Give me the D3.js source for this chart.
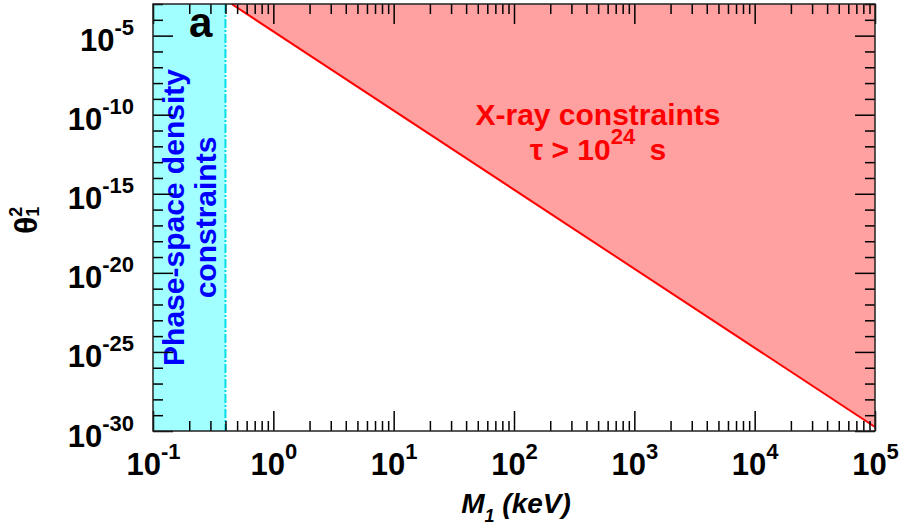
<!DOCTYPE html>
<html><head><meta charset="utf-8">
<script src="https://cdn.jsdelivr.net/npm/d3@7"></script>
<style>
body{margin:0;background:#fff}
svg{display:block}
text{font-family:"Liberation Sans",Arial,Helvetica,sans-serif;font-weight:bold}
</style>
</head><body>
<svg id="chart" width="900" height="526"></svg>
<script>
// ---- data ----
const xMajorTicks = [0.1, 1, 10, 100, 1000, 10000, 100000];
const xTickExponents = ["-1", "0", "1", "2", "3", "4", "5"];
const yMajorTicks = [1e-30, 1e-25, 1e-20, 1e-15, 1e-10, 1e-5];
const yTickExponents = ["-30", "-25", "-20", "-15", "-10", "-5"];
const xDomain = [0.1, 1e5];
const yDomain = [1e-30, 1e-3];
const phaseSpaceMassLimit = 0.4;          // keV
const xrayMass = [0.45, 1e5];             // keV
const xrayTheta2 = [1e-3, 1.8e-30];

// ---- layout ----
const svg = d3.select("#chart");
const L = 153, R = 875, T = 4, B = 431;
const x = d3.scaleLog().domain(xDomain).range([L, R]);
const y = d3.scaleLog().domain(yDomain).range([B, T]);

// minor tick positions
const xMinor = [];
for (let e = -1; e < 5; e++) for (let k = 2; k <= 9; k++) xMinor.push(k * Math.pow(10, e));
const yMinor = [];
for (let e = -29; e <= -3; e++) if (e % 5 !== 0) yMinor.push(Math.pow(10, e));

// ---- regions ----
svg.append("rect")
  .attr("x", x(xDomain[0])).attr("y", T)
  .attr("width", x(phaseSpaceMassLimit) - x(xDomain[0]))
  .attr("height", B - T)
  .attr("fill", "#a1ffff");

const xrayPts = xrayMass.map((m, i) => [x(m), y(xrayTheta2[i])]);
const poly = [...xrayPts, [x(xDomain[1]), y(yDomain[1])]];
svg.append("path")
  .attr("d", d3.line()(poly) + "Z")
  .attr("fill", "#ffa1a1");

svg.append("path")
  .attr("d", d3.line()(xrayPts))
  .attr("fill", "none").attr("stroke", "#ff0000").attr("stroke-width", 2);

svg.append("line")
  .attr("x1", x(phaseSpaceMassLimit)).attr("x2", x(phaseSpaceMassLimit))
  .attr("y1", T).attr("y2", B)
  .attr("stroke", "#00dde8").attr("stroke-width", 2)
  .attr("stroke-dasharray", "9,2,2,2");

// ---- texts ----
svg.append("text").attr("x", 189).attr("y", 37)
  .attr("font-size", 42).attr("fill", "#000").text("a");

const ps = svg.append("g").attr("transform", `translate(184,${(T + B) / 2}) rotate(-90)`);
ps.append("text").attr("text-anchor", "middle").attr("font-size", 30)
  .attr("fill", "#0000ff").text("Phase-space density");
ps.append("text").attr("text-anchor", "middle").attr("font-size", 30).attr("y", 32)
  .attr("fill", "#0000ff").text("constraints");

svg.append("text").attr("x", 598).attr("y", 125).attr("text-anchor", "middle")
  .attr("font-size", 30).attr("fill", "#ff0000").text("X-ray constraints");
const t2 = svg.append("text").attr("x", 598).attr("y", 160).attr("text-anchor", "middle")
  .attr("font-size", 30).attr("fill", "#ff0000");
t2.append("tspan").text("\u03C4 > 10");
t2.append("tspan").attr("dy", -16).attr("font-size", 22).text("24");
t2.append("tspan").attr("dy", 16).text("\u2009 s");

// ---- axes ----
function styleAxis(g) {
  g.select(".domain").remove();
  g.attr("font-family", null).attr("font-size", 31).attr("color", "#000");
  g.selectAll(".tick line").attr("stroke-width", 1.5);
}
function expLabels(g, exps, opts) {
  g.selectAll(".tick text").each(function (d, i) {
    const t = d3.select(this);
    t.text(null).attr("dy", null);
    if (opts.x !== undefined) t.attr("x", opts.x);
    if (opts.y !== undefined) t.attr("y", opts.y);
    t.append("tspan").text("10");
    t.append("tspan").attr("dy", -16).attr("font-size", 22).text(exps[i]);
  });
}

// bottom
const gb = svg.append("g").attr("transform", `translate(0,${B})`)
  .call(d3.axisBottom(x).tickValues(xMajorTicks).tickSize(-20).tickSizeOuter(0));
styleAxis(gb);
expLabels(gb, xTickExponents, { y: 44 });
const gbm = svg.append("g").attr("transform", `translate(0,${B})`)
  .call(d3.axisBottom(x).tickValues(xMinor).tickSize(-10).tickFormat(() => ""));
styleAxis(gbm);
// top
const gt = svg.append("g").attr("transform", `translate(0,${T})`)
  .call(d3.axisTop(x).tickValues(xMajorTicks).tickSize(-20).tickFormat(() => ""));
styleAxis(gt);
const gtm = svg.append("g").attr("transform", `translate(0,${T})`)
  .call(d3.axisTop(x).tickValues(xMinor).tickSize(-10).tickFormat(() => ""));
styleAxis(gtm);
// left
const gl = svg.append("g").attr("transform", `translate(${L},0)`)
  .call(d3.axisLeft(y).tickValues(yMajorTicks).tickSize(-20).tickSizeOuter(0));
styleAxis(gl);
expLabels(gl, yTickExponents, { x: -19, y: 15 });
const glm = svg.append("g").attr("transform", `translate(${L},0)`)
  .call(d3.axisLeft(y).tickValues(yMinor).tickSize(-10).tickFormat(() => ""));
styleAxis(glm);
// right
const gr = svg.append("g").attr("transform", `translate(${R},0)`)
  .call(d3.axisRight(y).tickValues(yMajorTicks).tickSize(-20).tickFormat(() => ""));
styleAxis(gr);
const grm = svg.append("g").attr("transform", `translate(${R},0)`)
  .call(d3.axisRight(y).tickValues(yMinor).tickSize(-10).tickFormat(() => ""));
styleAxis(grm);

// frame
svg.append("rect").attr("x", L).attr("y", T).attr("width", R - L).attr("height", B - T)
  .attr("fill", "none").attr("stroke", "#222").attr("stroke-width", 1.5);

// axis titles
const xt = svg.append("text").attr("x", 516).attr("y", 513).attr("text-anchor", "middle")
  .attr("font-size", 28).attr("font-style", "italic").attr("fill", "#000");
xt.append("tspan").text("M");
xt.append("tspan").attr("dy", 9).attr("font-size", 18).text("1");
xt.append("tspan").attr("dy", -9).text(" (keV)");

const yt = svg.append("text").attr("transform", "translate(37,234) rotate(-90)")
  .attr("font-size", 32).attr("fill", "#000");
yt.append("tspan").text("\u03B8");
yt.append("tspan").attr("dy", -15).attr("font-size", 18).text("2");
yt.append("tspan").attr("dx", -10).attr("dy", 17).attr("font-size", 18).text("1");
</script>
</body></html>
